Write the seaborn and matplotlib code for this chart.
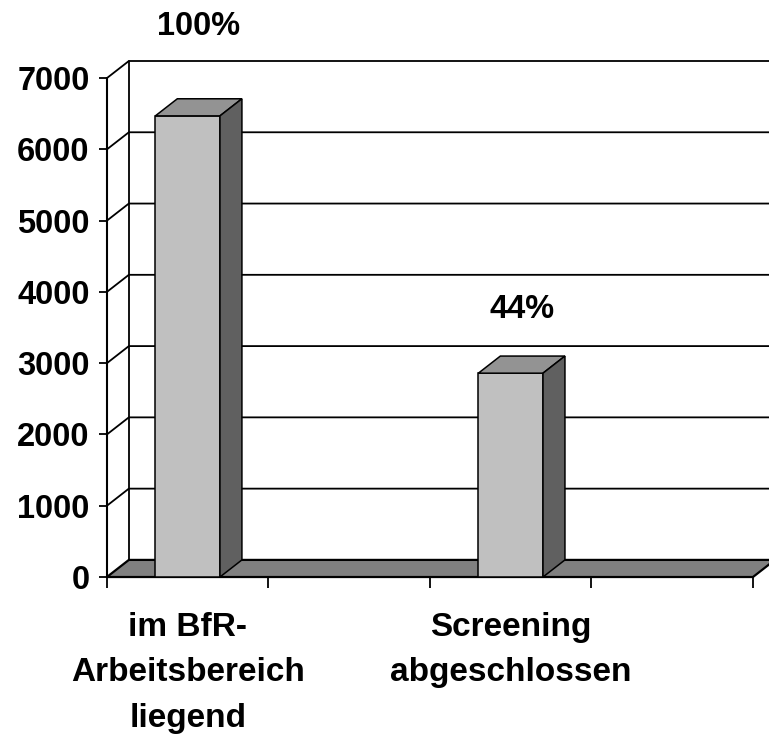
import numpy as np
import pandas as pd
import matplotlib
matplotlib.use("Agg")
import matplotlib.pyplot as plt
from matplotlib.patches import Polygon
import seaborn as sns

# category slots as in the original chart (2nd and 4th slot are empty)
categories = ["im BfR-\nArbeitsbereich\nliegend", "", "Screening\nabgeschlossen", ""]
values = [6470, np.nan, 2860, np.nan]
y_ticks = [0, 1000, 2000, 3000, 4000, 5000, 6000, 7000]

df = pd.DataFrame({"slot": range(len(categories)), "value": values})

sns.set_style("white")
plt.rcParams["font.family"] = ["Liberation Sans", "DejaVu Sans"]
plt.rcParams["font.weight"] = "bold"
for key in ["text.color", "xtick.color", "ytick.color", "axes.labelcolor"]:
    plt.rcParams[key] = "black"

fig = plt.figure(figsize=(7.69, 7.43), dpi=100)
ax = fig.add_axes([0.139, 0.2234, 0.8687, 0.6945])

# depth of the fake 3-D box, in data units
dx, dy = 0.136, 240
ymax = y_ticks[-1]
x0, x1 = -0.5, len(categories) - 0.5

sns.barplot(data=df, x="slot", y="value", order=list(range(len(categories))),
            width=0.4, color="#c0c0c0", saturation=1, edgecolor="black",
            linewidth=1.1, ax=ax, zorder=3)

# back wall gridlines + side wall diagonals
for v in y_ticks[1:]:
    ax.plot([x0, x0 + dx, x1 + dx], [v, v + dy, v + dy], color="black",
            lw=1.3, clip_on=False, zorder=1)
ax.plot([x0 + dx, x0 + dx], [dy, ymax + dy], color="black", lw=1.3,
        clip_on=False, zorder=1)

# floor
ax.add_patch(Polygon([(x0, 0), (x1, 0), (x1 + dx, dy), (x0 + dx, dy)],
                     closed=True, fc="#808080", ec="black", lw=1.6,
                     clip_on=False, zorder=2))

# tops and sides of the bars
bars = [p for p in ax.patches if isinstance(p, matplotlib.patches.Rectangle)
        and np.isfinite(p.get_height()) and p.get_height() > 0]
pct_offsets = [52, 33.5]  # points above bar top
for bar, off in zip(bars, pct_offsets):
    bx, bw, h = bar.get_x(), bar.get_width(), bar.get_height()
    top = [(bx, h), (bx + bw, h), (bx + bw + dx, h + dy), (bx + dx, h + dy)]
    side = [(bx + bw, 0), (bx + bw, h), (bx + bw + dx, h + dy), (bx + bw + dx, dy)]
    ax.add_patch(Polygon(top, closed=True, fc="#939393", ec="black", lw=1.1, zorder=3))
    ax.add_patch(Polygon(side, closed=True, fc="#606060", ec="black", lw=1.1, zorder=3))
    pct = round(h / values[0] * 100)
    ax.annotate(f"{pct}%", xy=(bx + bw / 2 + dx / 2, h + dy), xytext=(0, off),
                textcoords="offset points", ha="center", va="center",
                fontsize=23.5, fontweight="bold", annotation_clip=False)

# front value axis
ax.plot([x0, x0], [0, ymax], color="black", lw=1.5, clip_on=False, zorder=4)

for s in ax.spines.values():
    s.set_visible(False)

ax.set_xlim(x0, x1 + dx)
ax.set_ylim(0, ymax + dy)
ax.set_yticks(y_ticks)
ax.set_yticklabels([str(t) for t in y_ticks])
ax.tick_params(axis="y", left=True, length=6, width=1.3, pad=6.5, labelsize=23.5)

ax.set_xticks(range(len(categories)))
ax.set_xticklabels(categories)
ax.set_xticks(np.arange(x0, x1 + 1), minor=True)
ax.tick_params(axis="x", which="major", bottom=False, length=0, pad=25, labelsize=24)
ax.tick_params(axis="x", which="minor", bottom=True, length=8, width=1.3)
for lab in ax.get_xticklabels():
    lab.set_linespacing(1.6)

ax.set_xlabel("")
ax.set_ylabel("")

fig.savefig("out.png", dpi=100)
